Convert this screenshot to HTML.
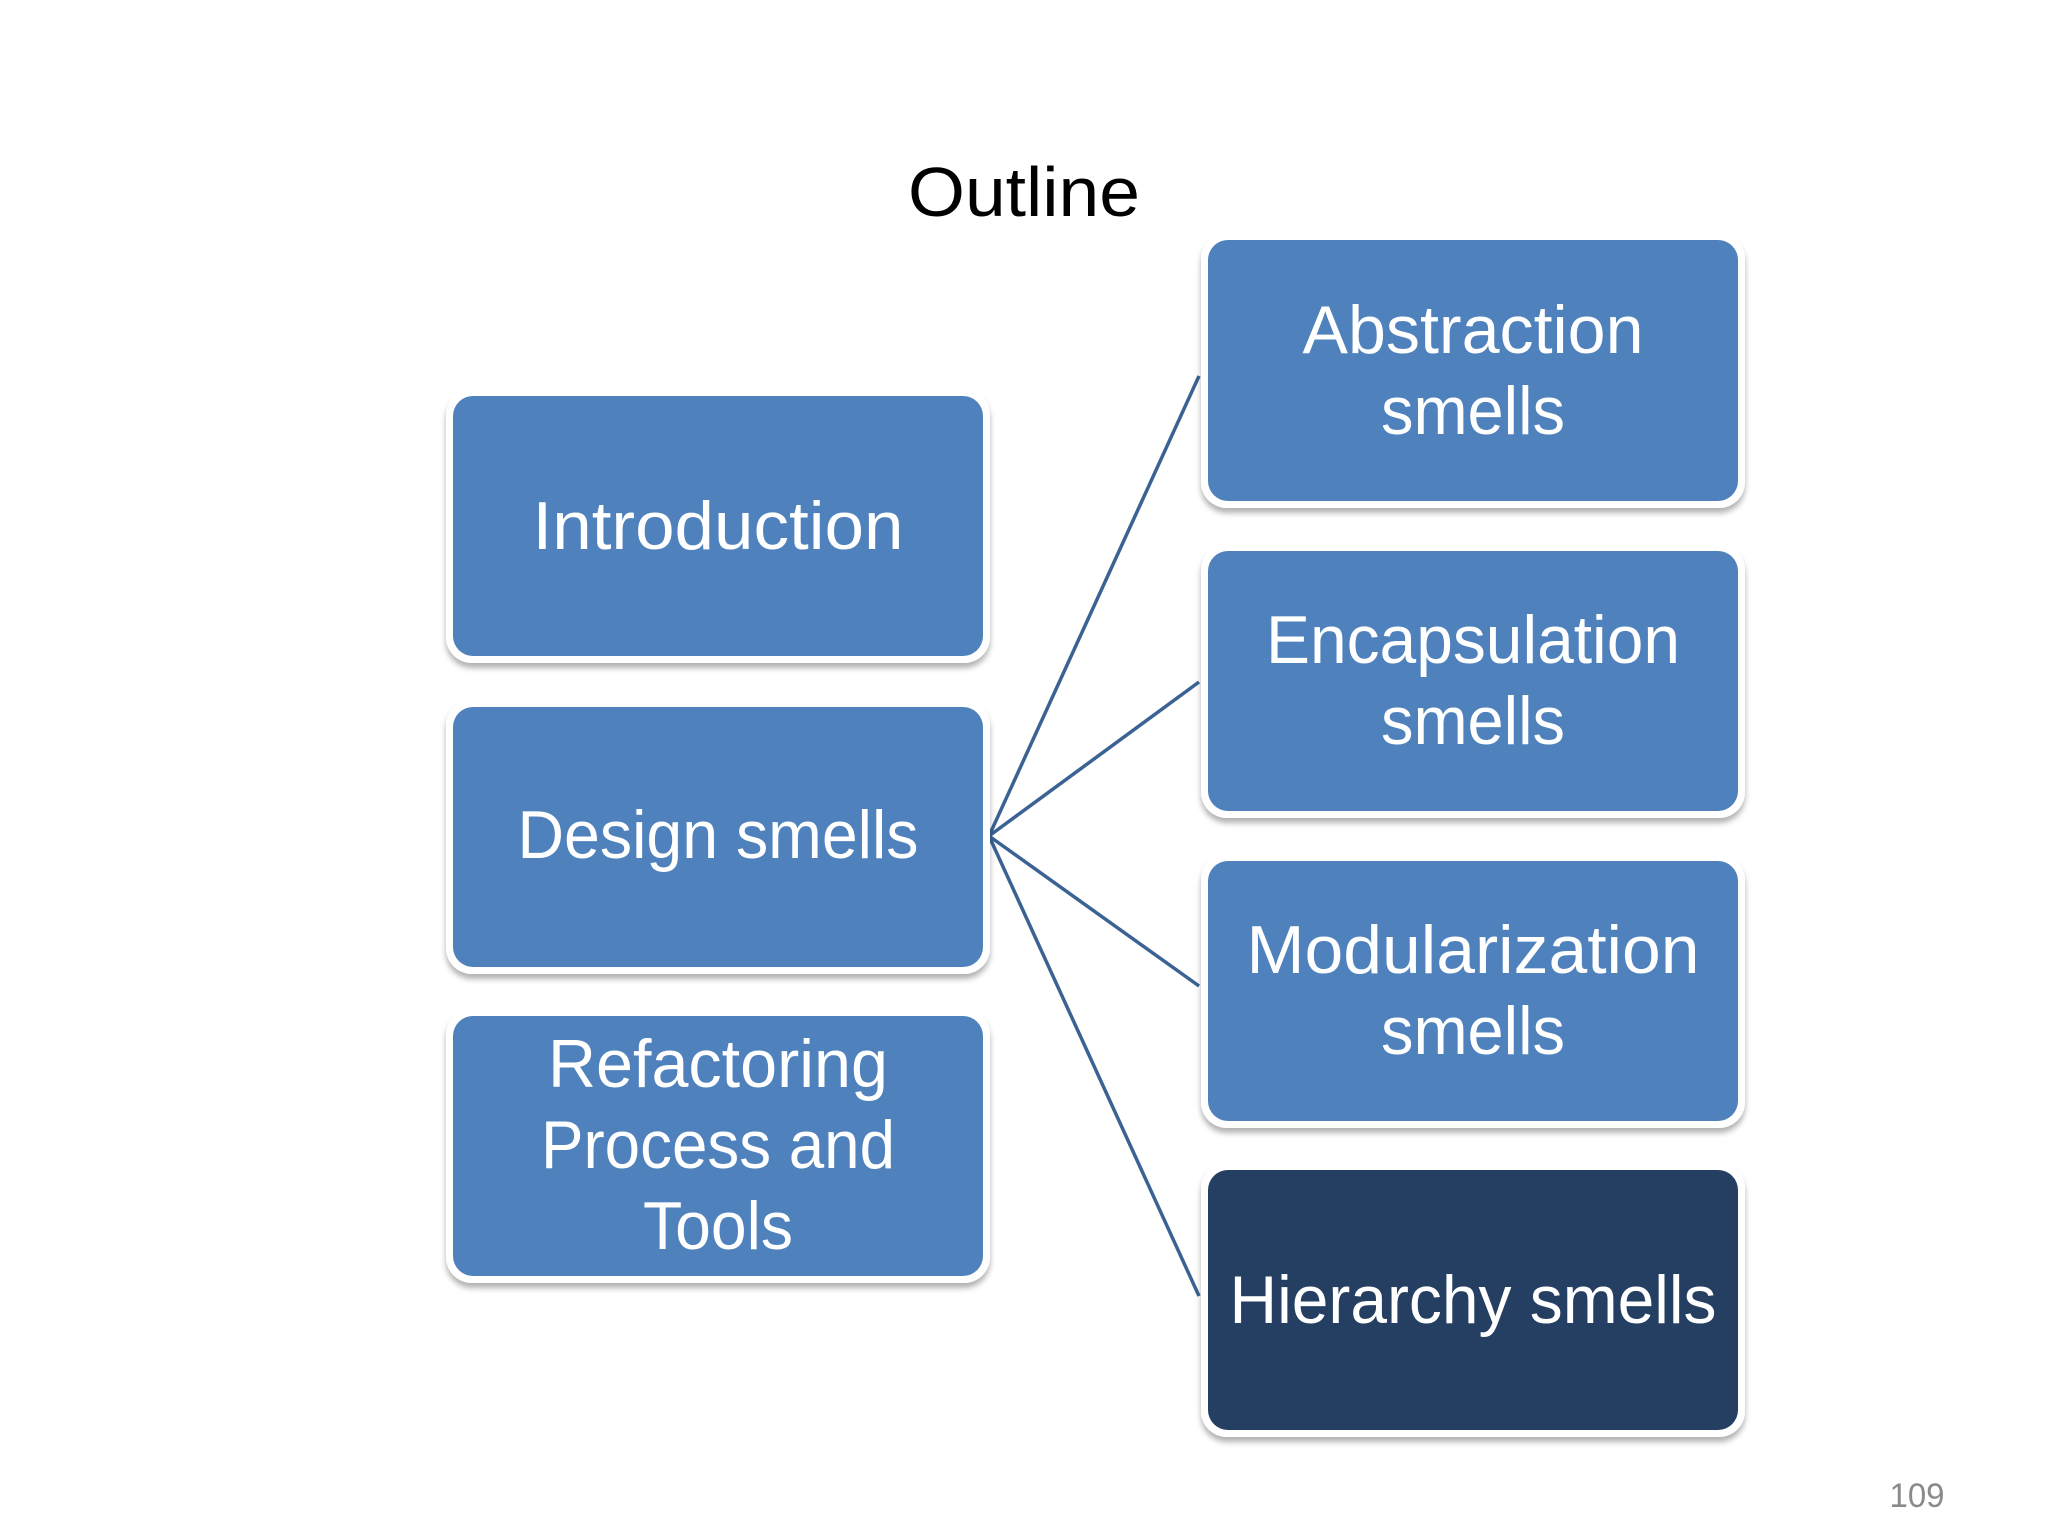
<!DOCTYPE html>
<html><head><meta charset="utf-8"><style>
html,body{margin:0;padding:0;background:#fff;}
svg{display:block;}
text{font-family:"Liberation Sans",sans-serif;}
</style></head><body>
<svg width="2048" height="1536" viewBox="0 0 2048 1536" xmlns="http://www.w3.org/2000/svg">
<defs>
<filter id="sh" x="-5%" y="-5%" width="110%" height="115%">
<feDropShadow dx="0" dy="5" stdDeviation="3" flood-color="#000" flood-opacity="0.3"/>
</filter>
</defs>
<text x="1024" y="216" font-size="70" text-anchor="middle" fill="#000" textLength="232" lengthAdjust="spacingAndGlyphs">Outline</text>
<g stroke="#3a6293" stroke-width="3.5" fill="none">
<line x1="989" y1="836" x2="1199" y2="376"/>
<line x1="989" y1="836" x2="1199" y2="682"/>
<line x1="989" y1="836" x2="1199" y2="986"/>
<line x1="989" y1="836" x2="1199" y2="1296"/>
</g>
<g filter="url(#sh)">
<rect x="446" y="389" width="544" height="274" rx="26" fill="#fff"/>
<rect x="446" y="700" width="544" height="274" rx="26" fill="#fff"/>
<rect x="446" y="1009" width="544" height="274" rx="26" fill="#fff"/>
<rect x="1201" y="233" width="544" height="275" rx="26" fill="#fff"/>
<rect x="1201" y="544" width="544" height="274" rx="26" fill="#fff"/>
<rect x="1201" y="854" width="544" height="274" rx="26" fill="#fff"/>
<rect x="1201" y="1163" width="544" height="274" rx="26" fill="#fff"/>
</g>
<g fill="#4f81bd">
<rect x="453" y="396" width="530" height="260" rx="20"/>
<rect x="453" y="707" width="530" height="260" rx="20"/>
<rect x="453" y="1016" width="530" height="260" rx="20"/>
<rect x="1208" y="240" width="530" height="261" rx="20"/>
<rect x="1208" y="551" width="530" height="260" rx="20"/>
<rect x="1208" y="861" width="530" height="260" rx="20"/>
</g>
<rect x="1208" y="1170" width="530" height="260" rx="20" fill="#243f62"/>
<g fill="#fff" font-size="68" text-anchor="middle" lengthAdjust="spacingAndGlyphs">
<text x="718" y="549" textLength="371" lengthAdjust="spacingAndGlyphs">Introduction</text>
<text x="718" y="858" textLength="401" lengthAdjust="spacingAndGlyphs">Design smells</text>
<text x="718" y="1087" textLength="340" lengthAdjust="spacingAndGlyphs">Refactoring</text>
<text x="718" y="1168" textLength="354" lengthAdjust="spacingAndGlyphs">Process and</text>
<text x="718" y="1249" textLength="150" lengthAdjust="spacingAndGlyphs">Tools</text>
<text x="1473" y="353" textLength="341" lengthAdjust="spacingAndGlyphs">Abstraction</text>
<text x="1473" y="434" textLength="184" lengthAdjust="spacingAndGlyphs">smells</text>
<text x="1473" y="663" textLength="414" lengthAdjust="spacingAndGlyphs">Encapsulation</text>
<text x="1473" y="744" textLength="184" lengthAdjust="spacingAndGlyphs">smells</text>
<text x="1473" y="973" textLength="453" lengthAdjust="spacingAndGlyphs">Modularization</text>
<text x="1473" y="1054" textLength="184" lengthAdjust="spacingAndGlyphs">smells</text>
<text x="1473" y="1323" textLength="487" lengthAdjust="spacingAndGlyphs">Hierarchy smells</text>
</g>
<text x="1917" y="1507" font-size="34" fill="#8a8a8a" text-anchor="middle" textLength="55" lengthAdjust="spacingAndGlyphs">109</text>
</svg>
</body></html>
